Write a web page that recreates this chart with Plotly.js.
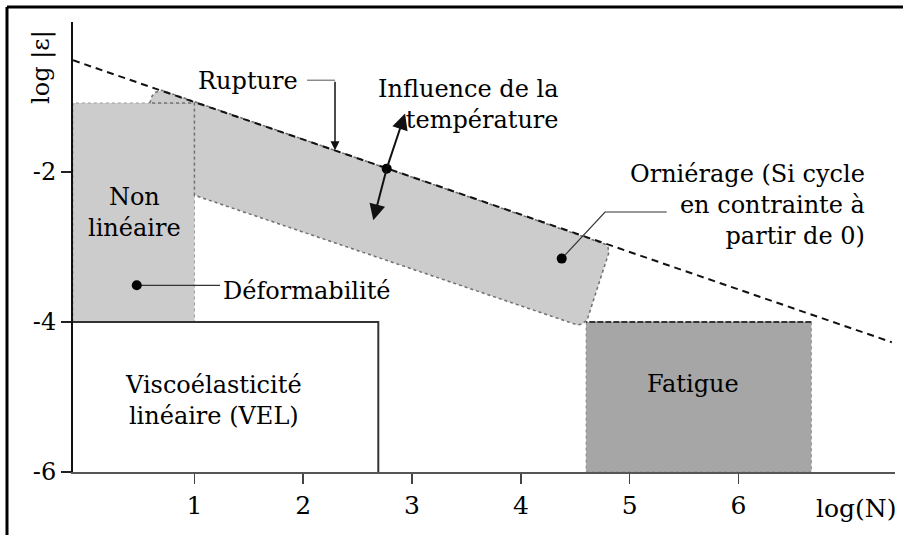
<!DOCTYPE html>
<html>
<head>
<meta charset="utf-8">
<script src="https://cdn.plot.ly/plotly-3.0.1.min.js"></script>
<style>
html,body{margin:0;padding:0;background:#fff;}
#chart{width:903px;height:535px;}
</style>
</head>
<body>
<div id="chart"></div>
<script>
// ---- data (log N, log |eps|) ----
const xTickVals = [1, 2, 3, 4, 5, 6];
const xTickLabels = ['1', '2', '3', '4', '5', '6'];
const yTickVals = [-6, -4, -2];
const yTickLabels = ['-6', '-4', '-2'];

const ruptureN = [-0.116, 7.41];
const ruptureEps = [-0.51, -4.27];

const nonLinN = [-0.116, 1, 1, -0.116, -0.116];
const nonLinEps = [-4, -4, -1.08, -1.08, -4];

const bandN = [0.59, 0.61, 0.64, 0.70, 4.73, 4.77, 4.80, 4.81, 4.61, 4.56, 4.52, 1.0, 1.0, 0.59];
const bandEps = [-1.08, -0.99, -0.94, -0.91, -2.94, -2.96, -3.0, -3.07, -3.97, -4.03, -4.04, -2.31, -1.08, -1.08];

const fatigueN = [4.60, 6.67, 6.67, 4.60, 4.60];
const fatigueEps = [-6, -6, -4, -4, -6];

const velN = [-0.116, 2.69, 2.69];
const velEps = [-4, -4, -6];

const pointN = [2.767, 4.376, 0.470];
const pointEps = [-1.955, -3.155, -3.511];

const ornLeaderN = [4.376, 4.774, 5.341];
const ornLeaderEps = [-3.155, -2.533, -2.533];
const defLeaderN = [0.470, 1.235];
const defLeaderEps = [-3.511, -3.511];
const rupLeaderN = [2.035, 2.292];
const rupLeaderEps = [-0.777, -0.777];
const rupArrowTip = [2.292, -1.711];
const tempArrowTipsN = [2.936, 2.644];
const tempArrowTipsEps = [-1.221, -2.644];

const FONT = 'DejaVu Serif';

const traces = [
  {x: nonLinN, y: nonLinEps, mode: 'lines', fill: 'toself', fillcolor: '#cccccc',
   line: {color: '#9a9a9a', width: 1, dash: 'dot'}, hoverinfo: 'skip'},
  {x: bandN, y: bandEps, mode: 'lines', fill: 'toself', fillcolor: '#cccccc',
   line: {color: '#6f6f6f', width: 1.5, dash: 'dot'}, hoverinfo: 'skip'},
  {x: fatigueN, y: fatigueEps, mode: 'lines', fill: 'toself', fillcolor: '#a6a6a6',
   line: {color: '#8a8a8a', width: 1, dash: 'dot'}, hoverinfo: 'skip'},
  {x: [fatigueN[2], fatigueN[3]], y: [fatigueEps[2], fatigueEps[3]], mode: 'lines',
   line: {color: '#333333', width: 2, dash: '6px,2px'}, hoverinfo: 'skip'},
  {x: velN, y: velEps, mode: 'lines', line: {color: '#333333', width: 2}, hoverinfo: 'skip'},
  {x: ruptureN, y: ruptureEps, mode: 'lines', line: {color: '#111111', width: 2, dash: '7px,5px'}, hoverinfo: 'skip'},
  {x: ornLeaderN, y: ornLeaderEps, mode: 'lines', line: {color: '#333333', width: 1.2}, hoverinfo: 'skip'},
  {x: defLeaderN, y: defLeaderEps, mode: 'lines', line: {color: '#333333', width: 1.2}, hoverinfo: 'skip'},
  {x: rupLeaderN, y: rupLeaderEps, mode: 'lines', line: {color: '#8a8a8a', width: 1.5}, hoverinfo: 'skip'},
  {x: pointN, y: pointEps, mode: 'markers', marker: {color: '#000', size: 10}, hoverinfo: 'skip'}
];

const txt = (text, x, y, extra) => Object.assign({
  text: text, x: x, y: y, xref: 'x', yref: 'y', showarrow: false,
  font: {family: FONT, size: 24, color: '#000'}
}, extra || {});

const annotations = [
  txt('Rupture', 1.493, -0.79),
  txt('Influence de la<br>température', 4.37, -1.10, {xanchor: 'right', align: 'right'}),
  txt('Orniérage (Si cycle<br>en contrainte à<br>partir de 0)', 7.18, -2.44, {xanchor: 'right', align: 'right'}),
  txt('Non<br>linéaire', 0.446, -2.54),
  txt('Déformabilité', 1.245, -3.59, {xanchor: 'left'}),
  txt('Viscoélasticité<br>linéaire (VEL)', 1.171, -5.04),
  txt('Fatigue', 5.583, -4.82),
  {text: 'log(N)', x: 7.08, y: -0.081, xref: 'x', yref: 'paper', showarrow: false,
   xanchor: 'center', yanchor: 'middle',
   font: {family: FONT, size: 25, color: '#000'}},
  {text: 'log |ε|', x: -0.039, y: 0.90, xref: 'paper', yref: 'paper', showarrow: false, textangle: -90,
   xanchor: 'center', yanchor: 'middle',
   font: {family: FONT, size: 24, color: '#000'}},
  {text: '', x: rupArrowTip[0], y: rupArrowTip[1], ax: rupLeaderN[1], ay: rupLeaderEps[1],
   xref: 'x', yref: 'y', axref: 'x', ayref: 'y', showarrow: true, arrowhead: 2, arrowsize: 1.2,
   arrowwidth: 1.5, arrowcolor: '#111', standoff: 0, startstandoff: 0},
  {text: '', x: tempArrowTipsN[0], y: tempArrowTipsEps[0], ax: pointN[0], ay: pointEps[0],
   xref: 'x', yref: 'y', axref: 'x', ayref: 'y', showarrow: true, arrowhead: 2, arrowsize: 1.6,
   arrowwidth: 2, arrowcolor: '#111', standoff: 0},
  {text: '', x: tempArrowTipsN[1], y: tempArrowTipsEps[1], ax: pointN[0], ay: pointEps[0],
   xref: 'x', yref: 'y', axref: 'x', ayref: 'y', showarrow: true, arrowhead: 2, arrowsize: 1.6,
   arrowwidth: 2, arrowcolor: '#111', standoff: 0}
];

const layout = {
  width: 903, height: 535,
  margin: {l: 73, r: 8, t: 22, b: 63, pad: 0},
  paper_bgcolor: '#fff', plot_bgcolor: '#fff',
  showlegend: false,
  xaxis: {range: [-0.116, 7.439], showgrid: false, zeroline: false, showline: true,
    linecolor: '#555', linewidth: 2, ticks: 'outside', ticklen: 10, tickwidth: 1.5, tickcolor: '#444',
    tickvals: xTickVals, ticktext: xTickLabels,
    tickfont: {family: FONT, size: 25, color: '#000'}, fixedrange: true},
  yaxis: {range: [-6, 0], showgrid: false, zeroline: false, showline: true,
    linecolor: '#111', linewidth: 2, ticks: 'outside', ticklen: 10, tickwidth: 1.5, tickcolor: '#222',
    tickvals: yTickVals, ticktext: yTickLabels,
    tickfont: {family: FONT, size: 24, color: '#000'}, fixedrange: true},
  annotations: annotations,
  shapes: [
    {type: 'line', xref: 'paper', yref: 'paper', x0: -0.0803, x1: -0.0803, y0: -0.15, y1: 1.0333,
     line: {color: '#000', width: 3}},
    {type: 'line', xref: 'paper', yref: 'paper', x0: -0.0803, x1: 1.02, y0: 1.0333, y1: 1.0333,
     line: {color: '#000', width: 3}}
  ]
};

Plotly.newPlot('chart', traces, layout, {staticPlot: true, displayModeBar: false});
</script>
</body>
</html>
